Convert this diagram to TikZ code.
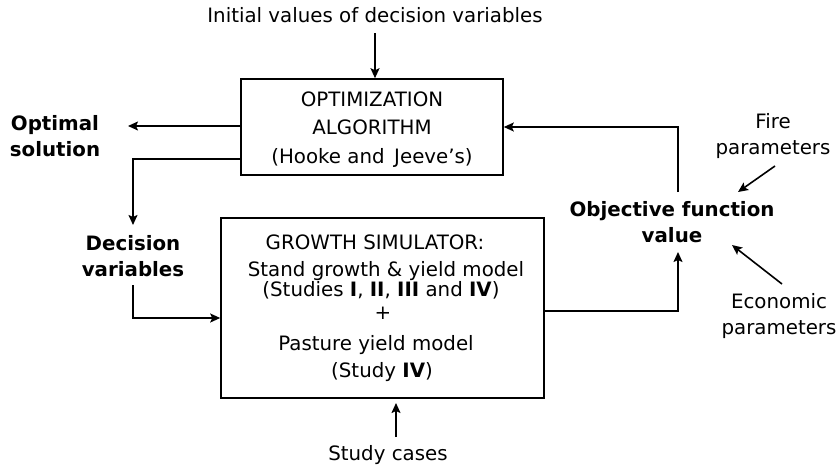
\documentclass[tikz,border=0pt]{standalone}
\usepackage{fontspec}
\setmainfont{DejaVu Sans}
\usetikzlibrary{arrows.meta}
\begin{document}
\begin{tikzpicture}[x=1pt,y=-1pt,
  line width=1.6pt,
  arr/.style={-{Stealth[length=10pt,width=9pt,inset=2pt]}},
  txt/.style={font=\fontsize{19.8}{26}\selectfont, inner sep=0pt, align=center},
  btxt/.style={font=\fontsize{19.8}{26}\selectfont\bfseries, inner sep=0pt, align=center},
  box/.style={draw, line width=1.6pt}]
\useasboundingbox (0,0) rectangle (839,466);
% boxes
\node[box, minimum width=262pt, minimum height=96pt, inner sep=0pt] (opt) at (372,127) {};
\node[box, minimum width=323pt, minimum height=180pt, inner sep=0pt] (sim) at (382.5,308) {};
% texts
\node[txt] (init) at (375,15) {Initial values of decision variables};
\node[txt] (o1) at (372,99) {OPTIMIZATION};
\node[txt] (o2) at (372,127) {ALGORITHM};
\node[txt] (o3) at (372,158) {(Hooke and\, Jeeve's)};
\node[btxt] (optsol) at (55,136) {Optimal\\solution};
\node[btxt] (dec) at (133,256) {Decision\\variables};
\node[txt] (s1) at (375,242) {GROWTH SIMULATOR:};
\node[txt] (s2) at (386,271) {Stand growth \& yield model};
\node[txt] (s3) at (381,290) {(Studies \textbf{I}, \textbf{II}, \textbf{III} and \textbf{IV})};
\node[txt] (s4) at (383,313) {+};
\node[txt] (s5) at (376,345) {Pasture yield model};
\node[txt] (s6) at (382,372) {(Study \textbf{IV})};
\node[txt] (cases) at (388,455) {Study cases};
\node[btxt] (obj) at (672,222) {Objective function\\value};
\node[txt] (fire) at (773,136) {Fire\\parameters};
\node[txt] (econ) at (779,316) {Economic\\parameters};
% connector coordinates
\coordinate (initE) at (375,33);
\coordinate (optL) at (128,126);
\coordinate (decTop) at (133,225);
\coordinate (decBot) at (133,285);
\coordinate (casesTop) at (396,437);
\coordinate (casesTip) at (396,403);
\coordinate (objBot) at (678,252);
\coordinate (objTop) at (678,192);
\coordinate (fireS) at (775,166);
\coordinate (fireE) at (738,192);
\coordinate (econS) at (782,284);
\coordinate (econE) at (732,245);
% connectors
\draw[arr] (initE) -- (initE |- opt.north);
\draw[arr] (opt.west |- optL) -- (optL);
\draw[arr] (opt.west |- 0,159) -| (decTop);
\draw[arr] (decBot) |- (sim.west |- 0,318);
\draw[arr] (casesTop) -- (casesTip);
\draw[arr] (sim.east |- 0,311) -| (objBot);
\draw[arr] (objTop) |- (opt.east |- 0,127);
\draw[arr] (fireS) -- (fireE);
\draw[arr] (econS) -- (econE);
\end{tikzpicture}
\end{document}
